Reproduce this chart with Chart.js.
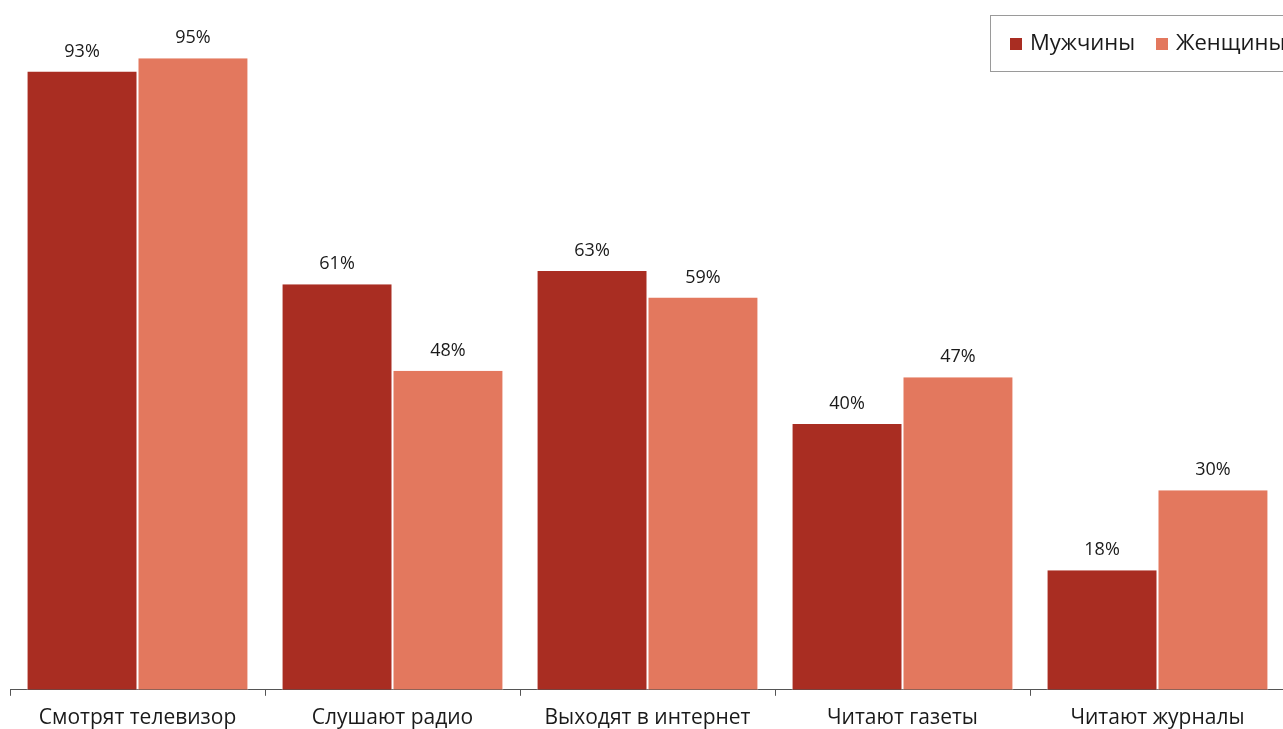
<!DOCTYPE html>
<html>
<head>
<meta charset="utf-8">
<script src="https://cdn.jsdelivr.net/npm/chart.js@4.4.1/dist/chart.umd.min.js"></script>
<style>
  html, body { margin: 0; padding: 0; background: #fff; overflow: hidden; }
  #wrap { width: 1290px; height: 729px; position: relative; }
</style>
</head>
<body>
<div id="wrap"><canvas id="c"></canvas></div>
<script>
const FONT = "'Open Sans', 'Noto Sans', sans-serif";
const INK = '#1a1a1a';

const categories = ['Смотрят телевизор', 'Слушают радио', 'Выходят в интернет', 'Читают газеты', 'Читают журналы'];
const seriesNames = ['Мужчины', 'Женщины'];
const men = [93, 61, 63, 40, 18];
const women = [95, 48, 59, 47, 30];
const colors = ['#A92D22', '#E3785E'];

// value labels above each bar
const valueLabels = {
  id: 'valueLabels',
  afterDatasetsDraw(chart) {
    const ctx = chart.ctx;
    ctx.save();
    ctx.font = `18px ${FONT}`;
    ctx.fillStyle = INK;
    ctx.textAlign = 'center';
    ctx.textBaseline = 'middle';
    chart.data.datasets.forEach((ds, i) => {
      chart.getDatasetMeta(i).data.forEach((bar, j) => {
        ctx.fillText(ds.data[j] + '%', bar.x, bar.y - 20);
      });
    });
    ctx.restore();
  },
};

// boxed legend in the top right corner, overlapping the plot
const boxLegend = {
  id: 'boxLegend',
  afterDraw(chart) {
    const ctx = chart.ctx;
    ctx.save();
    ctx.fillStyle = '#fff';
    ctx.fillRect(990, 15, 310, 56);
    ctx.strokeStyle = '#9a9a9a';
    ctx.lineWidth = 1;
    ctx.strokeRect(990.5, 15.5, 310, 56);
    ctx.font = `22px ${FONT}`;
    ctx.textBaseline = 'middle';
    const xs = [1010, 1156];
    chart.data.datasets.forEach((ds, i) => {
      ctx.fillStyle = ds.backgroundColor;
      ctx.fillRect(xs[i], 38, 12, 12);
      ctx.fillStyle = INK;
      ctx.fillText(ds.label, xs[i] + 20, 44);
    });
    ctx.restore();
  },
};

new Chart(document.getElementById('c'), {
  type: 'bar',
  data: {
    labels: categories,
    datasets: [
      { label: seriesNames[0], data: men, backgroundColor: colors[0] },
      { label: seriesNames[1], data: women, backgroundColor: colors[1] },
    ].map((d) => ({ ...d, borderColor: '#fff', borderWidth: { left: 1, right: 1 }, categoryPercentage: 0.87, barPercentage: 1.0 })),
  },
  options: {
    responsive: true,
    maintainAspectRatio: false,
    animation: false,
    layout: { padding: { left: 10, right: 5, top: 25, bottom: -12 } },
    plugins: { legend: { display: false }, tooltip: { enabled: false } },
    scales: {
      x: {
        grid: { display: true, drawOnChartArea: false, offset: true, tickLength: 6, color: '#555' },
        border: { display: true, color: '#555', width: 1 },
        ticks: { color: INK, font: { family: FONT, size: 21 }, padding: 10, maxRotation: 0 },
      },
      y: { display: false, min: 0, max: 100 },
    },
  },
  plugins: [valueLabels, boxLegend],
});
</script>
</body>
</html>
